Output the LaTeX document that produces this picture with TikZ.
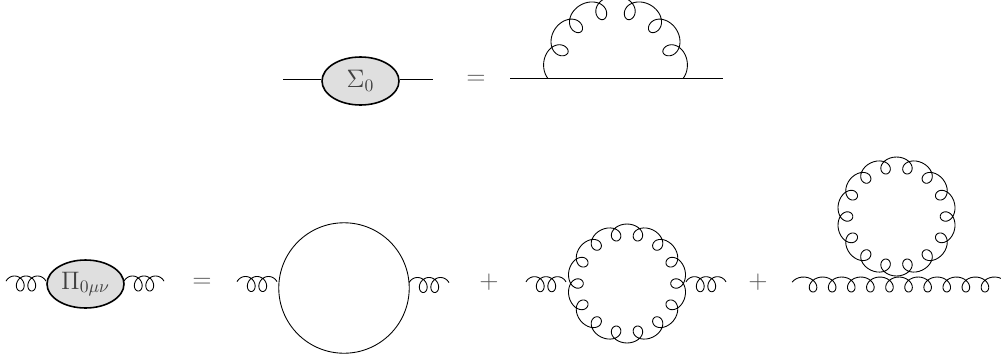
\documentclass[tikz,border=0pt]{standalone}
\usepackage{amsmath}
\usetikzlibrary{shapes.geometric}

% gluon along a straight line: origin, spacing, overhang, first and last phase
\newcommand{\gluonline}[5]{
    \draw[spring, shift={(#1)}] plot[variable=\t, domain=#4:#5, samples=240]
        ({#2*\t + #3*sin(360*\t)}, {7.5*cos(360*\t)});
}
% gluon along a circle: centre, radius, amplitude, loops per turn, phase angle, overhang, from, to
\newcommand{\gluonring}[8]{
    \draw[spring, shift={(#1)}] plot[variable=\t, domain=#7:#8, samples=421]
        ({(#2-#3*cos(#4*(\t-#5)))*cos(\t-#6*sin(#4*(\t-#5)))},
         {(#2-#3*cos(#4*(\t-#5)))*sin(\t-#6*sin(#4*(\t-#5)))});
}
\newcommand{\gluonleg}[1]{\gluonline{#1}{11.5}{6.5}{-0.2}{2.2}}

\begin{document}
\begin{tikzpicture}[
    x=0.02cm, y=0.02cm,
    blob/.style={
        draw, ellipse, fill=gray!25, line width=0.9pt,
        minimum width=1.54cm, minimum height=0.96cm,
        inner sep=0pt, font=\Large, text=black!75
    },
    spring/.style={line width=0.5pt, line join=round},
    fermion/.style={line width=0.5pt},
    lbl/.style={font=\Large, inner sep=0pt, text=black!65}
]
\useasboundingbox (0,0) rectangle (1001,360);

% top row
\node[blob] (sigma) at (360.5,279) {$\Sigma_0$};
\coordinate (sigmaL) at (283,281);
\coordinate (sigmaR) at (433,281);
\draw[fermion] (sigmaL) -- (sigma.west |- sigmaL);
\draw[fermion] (sigma.east |- sigmaR) -- (sigmaR);
\node[lbl] (eqtop) at (476,280) {$=$};
\coordinate (lineL) at (510,281.5);
\coordinate (lineR) at (723,281.5);
\draw[fermion] (lineL) -- (lineR);
\coordinate (rain) at (615.5,292);
\gluonring{rain}{61}{11}{12.5}{18}{11.6}{-0.3}{180.3}

% bottom row
\node[blob] (pi) at (85.5,76) {$\Pi_{0\mu\nu}$};
\coordinate (piL) at (14.5,76.5);
\coordinate (piR) at (132.5,76.5);
\gluonleg{piL}
\gluonleg{piR}
\node[lbl] (eqbot) at (202,77) {$=$};

% fermion loop
\node[draw, circle, line width=0.5pt, minimum size=2.61cm, inner sep=0pt] (bub) at (344,72) {};
\coordinate (bubL) at (245.5,76);
\coordinate (bubR) at (417.5,75);
\gluonleg{bubL}
\gluonleg{bubR}
\node[lbl] (plusa) at (489,78) {$+$};

% gluon loop
\coordinate (ring) at (627,76.5);
\coordinate (ringL) at (534.5,75.8);
\coordinate (ringR) at (694.5,75.8);
\gluonleg{ringL}
\gluonleg{ringR}
\gluonring{ring}{51.6}{7.9}{14}{0}{11.2}{0}{360}
\node[lbl] (plusb) at (758,78) {$+$};

% tadpole
\coordinate (tad) at (896.5,143.5);
\coordinate (tadLine) at (803.5,75.5);
\gluonring{tad}{51.6}{7.9}{14}{0}{11.2}{0}{360}
\gluonline{tadLine}{19.1}{8}{-0.2}{10.1}

\end{tikzpicture}
\end{document}
